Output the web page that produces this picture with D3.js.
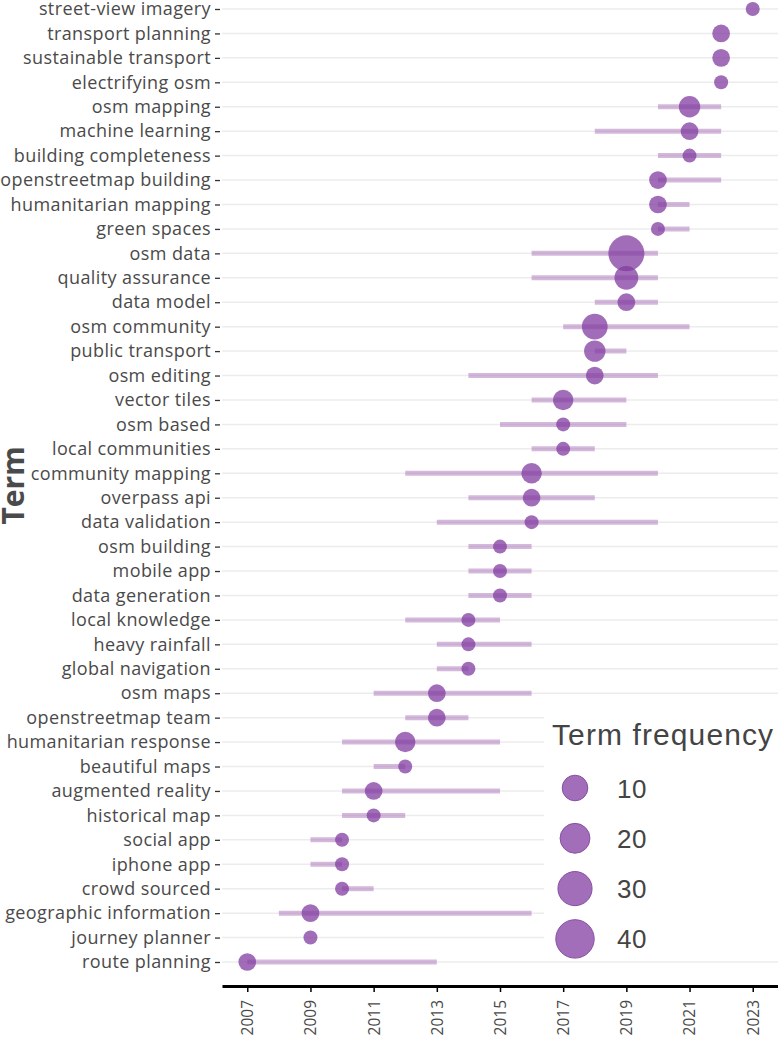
<!DOCTYPE html>
<html>
<head>
<meta charset="utf-8">
<script src="https://cdn.jsdelivr.net/npm/d3@7"></script>
<style>
  html, body { margin: 0; padding: 0; background: #fff; }
  svg { display: block; }
</style>
</head>
<body>
<svg id="chart" width="778" height="1037"></svg>
<script>
// ---- data (top to bottom) ----
const terms = [
  "street-view imagery", "transport planning", "sustainable transport", "electrifying osm",
  "osm mapping", "machine learning", "building completeness", "openstreetmap building",
  "humanitarian mapping", "green spaces", "osm data", "quality assurance", "data model",
  "osm community", "public transport", "osm editing", "vector tiles", "osm based",
  "local communities", "community mapping", "overpass api", "data validation",
  "osm building", "mobile app", "data generation", "local knowledge", "heavy rainfall",
  "global navigation", "osm maps", "openstreetmap team", "humanitarian response",
  "beautiful maps", "augmented reality", "historical map", "social app", "iphone app",
  "crowd sourced", "geographic information", "journey planner", "route planning"
];
const yearMedian = [
  2023, 2022, 2022, 2022, 2021, 2021, 2021, 2020, 2020, 2020, 2019, 2019, 2019,
  2018, 2018, 2018, 2017, 2017, 2017, 2016, 2016, 2016, 2015, 2015, 2015, 2014, 2014,
  2014, 2013, 2013, 2012, 2012, 2011, 2011, 2010, 2010, 2010, 2009, 2009, 2007
];
const yearQ1 = [
  2023, 2022, 2022, 2022, 2020, 2018, 2020, 2020, 2020, 2020, 2016, 2016, 2018,
  2017, 2018, 2014, 2016, 2015, 2016, 2012, 2014, 2013, 2014, 2014, 2014, 2012, 2013,
  2013, 2011, 2012, 2010, 2011, 2010, 2010, 2009, 2009, 2010, 2008, 2009, 2007
];
const yearQ3 = [
  2023, 2022, 2022, 2022, 2022, 2022, 2022, 2022, 2021, 2021, 2020, 2020, 2020,
  2021, 2019, 2020, 2019, 2019, 2018, 2020, 2018, 2020, 2016, 2016, 2016, 2015, 2016,
  2014, 2016, 2014, 2015, 2012, 2015, 2012, 2010, 2010, 2011, 2016, 2009, 2013
];
const freq = [
  5, 6, 6, 5, 9, 6, 5, 6, 6, 5, 40, 12, 6,
  15, 9, 6, 8, 5, 5, 8, 6, 5, 5, 5, 5, 5, 5,
  5, 6, 6, 8, 5, 6, 5, 5, 5, 5, 6, 5, 6
];
const xTicks = [2007, 2009, 2011, 2013, 2015, 2017, 2019, 2021, 2023];
const legendValues = [10, 20, 30, 40];

const rows = terms.map((t, i) => ({
  term: t, med: yearMedian[i], q1: yearQ1[i], q3: yearQ3[i], freq: freq[i]
}));

// ---- layout ----
const svg = d3.select("#chart");
const plotLeft = 222, plotRight = 778, axisY = 986;

const x = d3.scaleLinear().domain([2006.2, 2023.8]).range([plotLeft, plotRight]);
const y = d3.scalePoint().domain(terms).range([9, 962]);
// ggplot-like size scale: area grows with (freq - min)
const rExtra = d3.scaleSqrt().domain([0, 35]).range([0, 11]);
const r = f => 7 + rExtra(f - 5);
// legend size scale (legend keys as drawn in the reference)
const rLegend = d3.scaleLinear().domain([10, 40]).range([12.8, 19.2]);

const circleFill = "rgba(130,60,160,0.75)";
const lineColor = "rgba(160,100,180,0.45)";
const textColor = "#4a4a4a";

// grid lines
svg.append("g").selectAll("line").data(terms).join("line")
  .attr("x1", plotLeft).attr("x2", plotRight)
  .attr("y1", d => y(d)).attr("y2", d => y(d))
  .attr("stroke", "#ececec").attr("stroke-width", 1.5);

// range lines
svg.append("g").selectAll("line").data(rows.filter(d => d.q3 > d.q1)).join("line")
  .attr("x1", d => x(d.q1)).attr("x2", d => x(d.q3))
  .attr("y1", d => y(d.term)).attr("y2", d => y(d.term))
  .attr("stroke", lineColor).attr("stroke-width", 5);

// circles
svg.append("g").selectAll("circle").data(rows).join("circle")
  .attr("cx", d => x(d.med)).attr("cy", d => y(d.term))
  .attr("r", d => r(d.freq))
  .attr("fill", circleFill);

// y axis (labels + ticks, no domain line)
const yAxis = svg.append("g").attr("transform", `translate(220,0)`)
  .call(d3.axisLeft(y).tickSize(5).tickPadding(4));
yAxis.select(".domain").remove();
yAxis.selectAll(".tick line").attr("stroke", "#333").attr("stroke-width", 1.3);
yAxis.selectAll(".tick text")
  .attr("font-family", "'Open Sans', sans-serif").attr("font-size", 18)
  .attr("letter-spacing", "0.4px")
  .attr("fill", textColor);

// x axis
const xAxis = svg.append("g").attr("transform", `translate(0,${axisY})`)
  .call(d3.axisBottom(x).tickValues(xTicks).tickFormat(d3.format("d")).tickSize(6).tickSizeOuter(0));
xAxis.select(".domain").attr("stroke", "#000").attr("stroke-width", 3);
xAxis.selectAll(".tick line").attr("stroke", "#000").attr("stroke-width", 1.5);
xAxis.selectAll(".tick text")
  .attr("font-family", "'Open Sans', sans-serif").attr("font-size", 15.5)
  .attr("fill", textColor)
  .attr("transform", "rotate(-90)")
  .attr("text-anchor", "end")
  .attr("x", -14).attr("y", 0).attr("dy", "0.35em");

// y axis title
svg.append("text")
  .attr("transform", `translate(24,${(y(terms[0]) + y(terms[terms.length - 1])) / 2}) rotate(-90)`)
  .attr("text-anchor", "middle")
  .attr("font-family", "'Open Sans', sans-serif").attr("font-weight", "bold")
  .attr("font-size", 30).attr("fill", textColor)
  .text("Term");

// legend
const lg = svg.append("g");
lg.append("rect").attr("x", 544).attr("y", 705).attr("width", 234).attr("height", 256).attr("fill", "#fff");
lg.append("text").attr("x", 552).attr("y", 745)
  .attr("font-family", "'Liberation Sans', Arial, sans-serif").attr("font-size", 30)
  .attr("letter-spacing", "1.1px")
  .attr("fill", "#444").text("Term frequency");
const lgItems = lg.selectAll("g.item").data(legendValues).join("g")
  .attr("class", "item")
  .attr("transform", (d, i) => `translate(575,${788 + i * 50.3})`);
lgItems.append("circle")
  .attr("r", d => rLegend(d))
  .attr("fill", "rgb(162,110,186)").attr("stroke", "rgb(135,80,165)").attr("stroke-width", 1);
lgItems.append("text").attr("x", 42).attr("y", 9.5)
  .attr("font-family", "'Liberation Sans', Arial, sans-serif").attr("font-size", 26)
  .attr("letter-spacing", "0.5px")
  .attr("fill", "#444").text(d => d);
</script>
</body>
</html>
